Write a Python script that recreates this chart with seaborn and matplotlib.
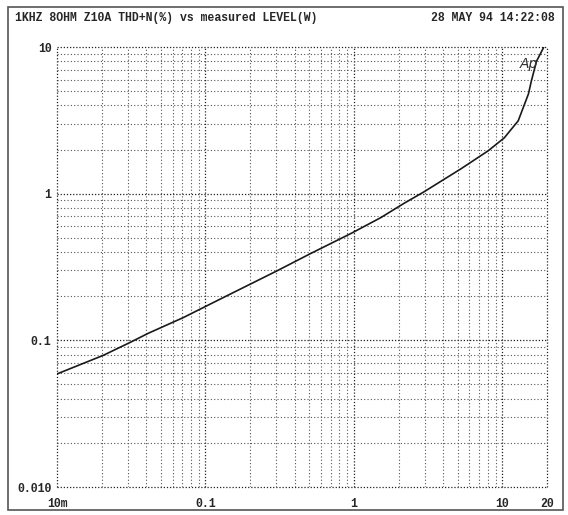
import numpy as np
import pandas as pd
import matplotlib
matplotlib.use("Agg")
import matplotlib.pyplot as plt
from matplotlib.ticker import LogLocator, FixedLocator, FixedFormatter, NullFormatter
from matplotlib.patches import Rectangle
import seaborn as sns

# Data (level in W, THD+N in %)
level_w = [0.01, 0.0205, 0.0311, 0.0412, 0.071, 0.1205, 0.306, 0.512, 0.955,
           1.52, 2.18, 2.97, 5.28, 8.03, 10.3, 12.8, 15.0, 15.7, 17.0, 18.9, 19.6]
thdn_pct = [0.059, 0.079, 0.0968, 0.1117, 0.143, 0.187, 0.299, 0.391, 0.535,
            0.687, 0.86, 1.03, 1.48, 1.96, 2.40, 3.14, 4.79, 5.88, 8.0, 9.84, 11.0]

x_ticks = [0.01, 0.1, 1, 10, 20]
x_labels = ["10m", "0.1", "1", "10", "20"]
y_ticks = [0.01, 0.1, 1, 10]
y_labels = ["0.010", "0.1", "1", "10"]

title_left = "1KHZ 8OHM Z10A THD+N(%) vs measured LEVEL(W)"
title_right = "28 MAY 94 14:22:08"

sns.set_style("white")
plt.rcParams["font.family"] = ["Liberation Mono", "DejaVu Sans Mono"]
plt.rcParams["font.weight"] = "bold"

fig = plt.figure(figsize=(5.68, 5.15), dpi=100)
ax = fig.add_axes([57/568, 1 - 487/515, 490/568, 440/515])

df = pd.DataFrame({"level": level_w, "thdn": thdn_pct})
sns.lineplot(data=df, x="level", y="thdn", ax=ax, color="#1a1a1a", linewidth=1.2)

ax.set_xscale("log")
ax.set_yscale("log")
ax.set_xlim(0.01, 20)
ax.set_ylim(0.01, 10)

ax.xaxis.set_major_locator(FixedLocator(x_ticks))
ax.xaxis.set_major_formatter(FixedFormatter(x_labels))
ax.yaxis.set_major_locator(FixedLocator(y_ticks))
ax.yaxis.set_major_formatter(FixedFormatter(y_labels))
ax.xaxis.set_minor_locator(LogLocator(base=10, subs=np.arange(2, 10), numticks=20))
ax.yaxis.set_minor_locator(LogLocator(base=10, subs=np.arange(2, 10), numticks=20))
ax.xaxis.set_minor_formatter(NullFormatter())
ax.yaxis.set_minor_formatter(NullFormatter())

ax.grid(True, which="major", color="#222222", linestyle=(0, (1, 1.5)), linewidth=0.9)
ax.grid(True, which="minor", color="#555555", linestyle=(0, (1, 2)), linewidth=0.8)
for gl in ax.get_xgridlines() + ax.get_ygridlines():
    gl.set_clip_on(False)

ax.tick_params(axis="both", which="both", length=0)
ax.tick_params(axis="x", pad=8, labelsize=8.3)
ax.tick_params(axis="y", pad=4, labelsize=8.3)
for s in ax.spines.values():
    s.set_visible(False)
ax.set_xlabel("")
ax.set_ylabel("")

# Audio Precision logo mark
ax.text(0.962, 0.962, "Ap", transform=ax.transAxes, fontsize=10, style="italic",
        fontweight="normal", family="DejaVu Sans", ha="center", va="center", color="#333333")

fig.text(15/568, 1 - 18/515, title_left, ha="left", va="center", fontsize=8.3)
fig.text(555/568, 1 - 18/515, title_right, ha="right", va="center", fontsize=8.3)

fig.patches.append(Rectangle((8/568, 1 - 510/515), 555/568, 503/515, transform=fig.transFigure,
                             fill=False, edgecolor="#555555", linewidth=1.2))

fig.savefig("out.png", dpi=100)
